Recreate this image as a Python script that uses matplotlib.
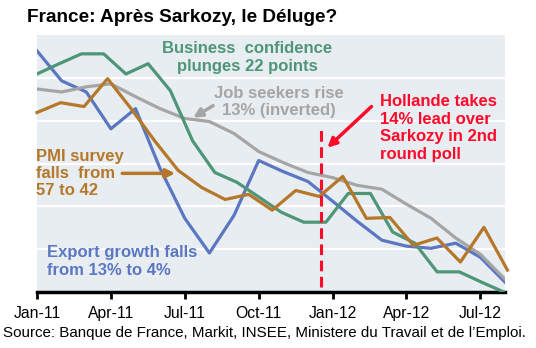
import numpy as np
import matplotlib
matplotlib.use("Agg")
import matplotlib.pyplot as plt

plt.rcParams['font.family'] = ['Liberation Sans', 'DejaVu Sans']

# values (arbitrary index units, 0..6 across plot height)
tick_labels = ['Jan-11', 'Apr-11', 'Jul-11', 'Oct-11', 'Jan-12', 'Apr-12', 'Jul-12']
export_growth = [5.63, 4.93, 4.67, 3.81, 4.28, 2.88, 1.72, 0.91, 1.79, 3.07,
                 2.81, 2.58, 2.12, 1.65, 1.21, 1.07, 1.02, 1.14, 0.81, 0.23]
job_seekers = [4.74, 4.67, 4.79, 4.86, 4.56, 4.28, 4.05, 3.98, 3.70, 3.28,
               3.02, 2.79, 2.67, 2.49, 2.40, 2.05, 1.72, 1.26, 0.88, 0.30]
pmi = [4.19, 4.42, 4.33, 4.98, 4.28, 3.53, 2.84, 2.44, 2.16, 2.28, 1.91,
       2.37, 2.23, 2.70, 1.72, 1.74, 1.09, 1.26, 0.70, 1.51, 0.51]
business_conf = [5.09, 5.33, 5.56, 5.56, 5.09, 5.33, 4.70, 3.53, 2.79, 2.56, 2.21,
                 1.86, 1.63, 1.63, 2.30, 2.30, 1.40, 1.14, 0.47, 0.47, 0.23, 0.00]

BLUE = '#5b77c1'
GREY = '#a5a5a5'
ORANGE = '#b5782a'
GREEN = '#4e9677'
RED = '#ff0a2a'

fig = plt.figure(figsize=(5.36, 3.48), dpi=100)
ax = fig.add_axes([37/536, 56/348, 468/536, 257/348])
ax.set_facecolor('#e8edf1')

# monthly series on the main axis, the others were on their own (secondary) scales
ax.plot(np.arange(len(export_growth)), export_growth, color=BLUE, lw=2.3, zorder=3)
ax.plot(np.arange(len(job_seekers)), job_seekers, color=GREY, lw=2.3, zorder=3)
ax.plot(np.linspace(0, 19.1, len(pmi)), pmi, color=ORANGE, lw=2.3, zorder=4, clip_on=False)
ax.plot(np.linspace(0, 18.95, len(business_conf)), business_conf, color=GREEN, lw=2.3, zorder=3)

ax.set_xlim(0, 19)
ax.set_ylim(0, 6)
ax.set_yticks([1, 2, 3, 4, 5])
ax.yaxis.grid(True, color='white', lw=1.6)
ax.set_axisbelow(True)
ax.tick_params(axis='y', left=False, labelleft=False)
ax.set_xticks(np.arange(0, 19, 3))
ax.set_xticklabels(tick_labels, fontsize=11.3)
ax.tick_params(axis='x', direction='out', length=5, width=2, pad=5)
for s in ['left', 'right', 'top']:
    ax.spines[s].set_visible(False)
ax.spines['bottom'].set_linewidth(2.5)

# election marker
ax.vlines(11.55, 0.12, 3.79, color=RED, lw=2.2, linestyles=(0, (3.5, 1.8)), zorder=5)

bold = dict(fontweight='bold', fontsize=12)
ax.text(8.54, 5.48, 'Business  confidence\nplunges 22 points', color=GREEN,
        ha='center', va='center', linespacing=1.22, **bold)
ax.text(9.84, 4.44, 'Job seekers rise\n13% (inverted)', color=GREY,
        ha='center', va='center', linespacing=1.16, **bold)
ax.text(-0.04, 2.77, 'PMI survey\nfalls  from\n57 to 42', color=ORANGE,
        ha='left', va='center', linespacing=1.15, **bold)
ax.text(0.41, 0.71, 'Export growth falls\nfrom 13% to 4%', color=BLUE,
        ha='left', va='center', linespacing=1.2, **bold)
ax.text(13.94, 3.83, 'Hollande takes\n14% lead over\nSarkozy in 2nd\nround poll', color=RED,
        ha='left', va='center', linespacing=1.22, **bold)

arrow = dict(arrowstyle='-|>', lw=2.5, mutation_scale=13, shrinkA=0, shrinkB=0)
ax.annotate('', xy=(6.34, 4.07), xytext=(7.15, 4.35),
            arrowprops=dict(color=GREY, **arrow), zorder=6)
ax.annotate('', xy=(5.61, 2.77), xytext=(3.46, 2.77),
            arrowprops=dict(color=ORANGE, **arrow), zorder=6)
ax.annotate('', xy=(11.79, 3.37), xytext=(13.58, 4.33),
            arrowprops=dict(color=RED, **arrow), zorder=6)

fig.text(27/536, 1 - 17/348, 'France: Après Sarkozy, le Déluge?', fontsize=13.7,
         fontweight='bold', ha='left', va='center')
fig.text(3/536, 1 - 333/348,
         "Source: Banque de France, Markit, INSEE, Ministere du Travail et de l\u2019Emploi.",
         fontsize=10.9, ha='left', va='center')

fig.savefig('out.png', dpi=100)
